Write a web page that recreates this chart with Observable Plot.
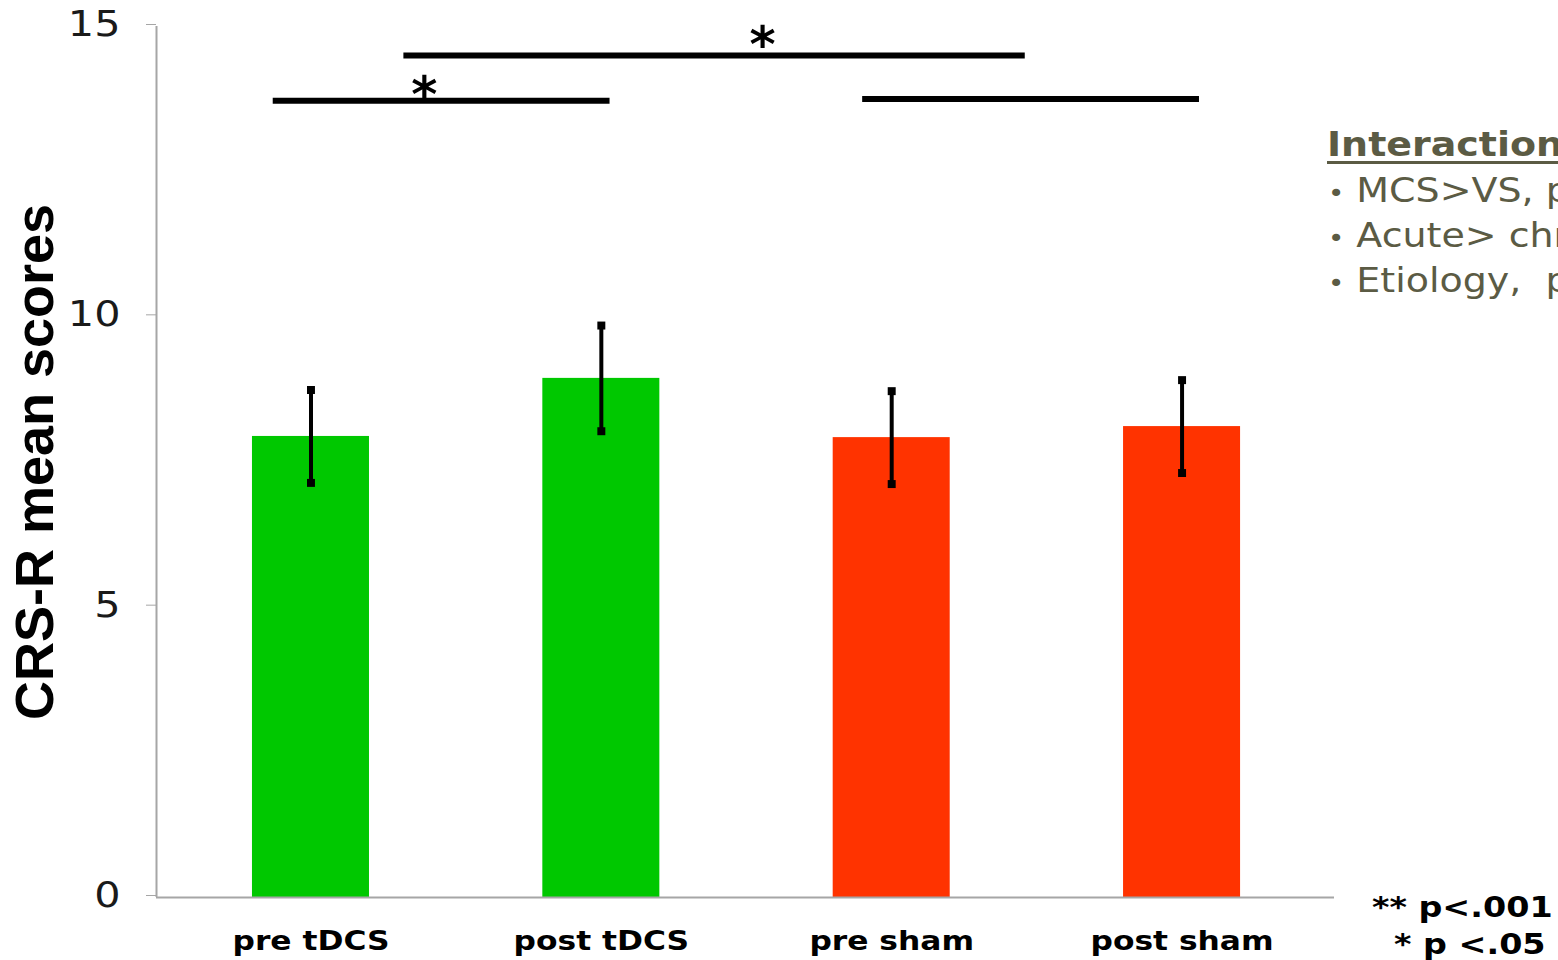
<!DOCTYPE html>
<html>
<head>
<meta charset="utf-8">
<script src="https://cdn.jsdelivr.net/npm/d3@7"></script>
<script src="https://cdn.jsdelivr.net/npm/@observablehq/plot@0.6"></script>
<style>
  html, body { margin: 0; padding: 0; background: #fff; overflow: hidden; }
  #wrap { position: relative; width: 1558px; height: 960px; overflow: hidden; background: #fff; }
  .ann { position: absolute; white-space: nowrap; transform: scaleX(1.15); transform-origin: 0 0; }
  .side { font-family: "DejaVu Sans", sans-serif; font-size: 33px; line-height: 33px; color: #5b5b44; }
  .side b { text-decoration: underline; text-decoration-thickness: 3px; text-underline-offset: 5px; }
  .bul { font-size: 24px; }
  .pv { font-family: "DejaVu Sans", sans-serif; font-weight: bold; font-size: 29px; line-height: 29px; color: #000; }
</style>
</head>
<body>
<div id="wrap"></div>
<script>
// ---- data ----
const categories = ["pre tDCS", "post tDCS", "pre sham", "post sham"];
const groups = ["tDCS", "tDCS", "sham", "sham"];
const means = [7.94, 8.94, 7.92, 8.11];
const errors = [0.80, 0.91, 0.80, 0.80];
const yTicks = [0, 5, 10, 15];

// significance brackets (x in category-index units, y in score units)
const sigFrom = [-0.13, 0.32, 1.90];
const sigTo = [1.03, 2.46, 3.06];
const sigY = [13.72, 14.50, 13.75];
const starX = [0.39, 1.555];
const starY = [14.0, 14.86];
const starText = ["*", "*"];

const yLabel = "CRS-R mean scores";
const sideTitle = "Interaction";
const sideLines = ["MCS>VS, p", "Acute> chr", "Etiology,  p"];
const pLegend = ["** p<.001", "* p <.05"];

// ---- tables ----
const bars = categories.map((c, i) => ({i, c, g: groups[i], m: means[i], e: errors[i]}));
const sig = sigFrom.map((a, k) => ({x1: a, x2: sigTo[k], y: sigY[k]}));
const stars = starX.map((x, k) => ({x, y: starY[k], t: starText[k]}));

const xDomain = [-0.532, 3.525];
const half = 0.2015;

const chart = Plot.plot({
  width: 1558,
  height: 960,
  marginLeft: 156,
  marginRight: 224,
  marginTop: 26,
  marginBottom: 63,
  style: {fontFamily: "DejaVu Sans", background: "white", overflow: "visible"},
  x: {type: "linear", domain: xDomain},
  y: {domain: [0, 15]},
  color: {domain: ["tDCS", "sham"], range: ["#00c800", "#ff3300"]},
  marks: [
    Plot.rectY(bars, {x1: d => d.i - half, x2: d => d.i + half, y1: 0, y2: "m", fill: "g"}),
    Plot.ruleY([0], {stroke: "#a6a6a6", strokeWidth: 2}),
    Plot.ruleX([xDomain[0]], {y1: 0, y2: 15, stroke: "#a6a6a6", strokeWidth: 2}),
    Plot.ruleX(bars, {x: "i", y1: d => d.m - d.e, y2: d => d.m + d.e, stroke: "#000", strokeWidth: 4}),
    Plot.dot(bars, {x: "i", y: d => d.m - d.e, symbol: "square", r: 4.5, fill: "#000", stroke: null}),
    Plot.dot(bars, {x: "i", y: d => d.m + d.e, symbol: "square", r: 4.5, fill: "#000", stroke: null}),
    Plot.ruleY(sig, {x1: "x1", x2: "x2", y: "y", stroke: "#000", strokeWidth: 6}),
    Plot.text(stars, {x: "x", y: "y", text: "t", fontSize: 50, fontWeight: "bold", fill: "#000", dy: 11}),
    Plot.axisY({ticks: yTicks, tickSize: 10, tickPadding: 26, stroke: "#a6a6a6", fill: "#1a1a1a",
      fontSize: 36, label: null, dy: -2}),
    Plot.axisX({ticks: [0, 1, 2, 3], tickFormat: i => categories[i], tickSize: 0, tickPadding: 33,
      fontSize: 27, fontWeight: "bold", fill: "#000", label: null}),
    Plot.text([yLabel], {frameAnchor: "left", rotate: -90, dx: -121, fontSize: 54, fontWeight: "bold",
      fontFamily: "Liberation Sans", fill: "#000", textAnchor: "middle", lineAnchor: "middle"})
  ]
});

const wrap = document.getElementById("wrap");
wrap.appendChild(chart);

// widen tick labels horizontally like the reference
function widen(sel, k, anchorFrac) {
  chart.querySelectorAll(sel).forEach(t => {
    const b = t.getBBox();
    const cx = b.x + b.width * anchorFrac;
    const T = t.getAttribute("transform") || "";
    t.setAttribute("transform", `${T} translate(${cx},0) scale(${k},1) translate(${-cx},0)`);
  });
}
widen('[aria-label="x-axis tick label"] text', 1.16, 0.5);
widen('[aria-label="y-axis tick label"] text', 1.15, 1);

// side annotation
function addDiv(cls, left, top, html) {
  const d = document.createElement("div");
  d.className = "ann " + cls;
  d.style.left = left + "px";
  d.style.top = top + "px";
  d.innerHTML = html;
  wrap.appendChild(d);
}
addDiv("side", 1327, 128, `<b>${sideTitle}</b>`);
sideLines.forEach((s, k) => {
  addDiv("side", 1328, 174 + 45 * k, `<span class="bul">&bull;</span> ${s.replace(/>/g, "&gt;").replace(/  /g, " &nbsp;")}`);
});
addDiv("pv", 1372, 893, pLegend[0].replace(/</g, "&lt;"));
addDiv("pv", 1394, 930, pLegend[1].replace(/</g, "&lt;"));
</script>
</body>
</html>
